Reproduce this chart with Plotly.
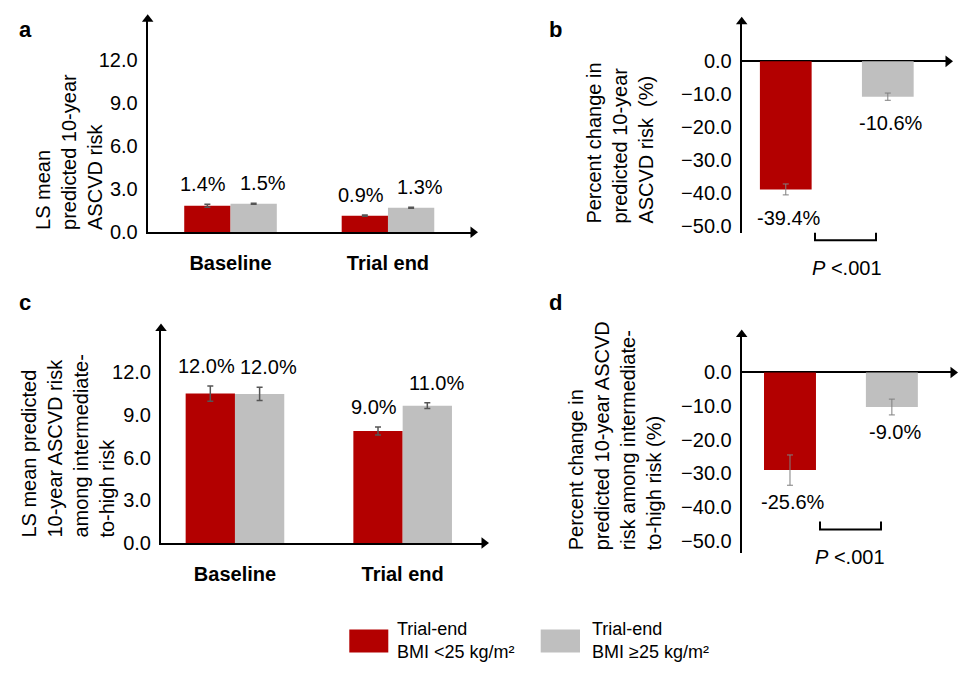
import plotly.graph_objects as go

# ---------------- data ----------------
groups = ["Baseline", "Trial end"]
series_names = ["Trial-end BMI <25 kg/m²", "Trial-end BMI ≥25 kg/m²"]

# panel a: LS mean predicted 10-year ASCVD risk (bar heights as drawn)
a_lt25 = [1.84, 1.15]
a_ge25 = [1.98, 1.70]
a_err_lt25 = [0.10, 0.05]
a_err_ge25 = [0.03, 0.04]
a_lab_lt25 = ["1.4%", "0.9%"]
a_lab_ge25 = ["1.5%", "1.3%"]

# panel c: among intermediate-to-high risk
c_lt25 = [10.50, 7.87]
c_ge25 = [10.48, 9.65]
c_err_lt25 = [0.53, 0.28]
c_err_ge25 = [0.46, 0.20]
c_lab_lt25 = ["12.0%", "9.0%"]
c_lab_ge25 = ["12.0%", "11.0%"]

# panel b: percent change
b_vals = [-39.0, -10.75]
b_err = [1.66, 1.10]
b_labs = ["-39.4%", "-10.6%"]

# panel d: percent change among intermediate-to-high risk
d_vals = [-29.0, -10.26]
d_err = [4.5, 2.35]
d_labs = ["-25.6%", "-9.0%"]

ticks_ac = [0.0, 3.0, 6.0, 9.0, 12.0]
ticks_bd = [0.0, -10.0, -20.0, -30.0, -40.0, -50.0]
p_text = "<i>P</i> <.001"
legend_texts = ["Trial-end<br>BMI <25 kg/m²", "Trial-end<br>BMI ≥25 kg/m²"]

# ---------------- style ----------------
RED = "#b30000"
GRAY = "#bfbfbf"
FONT = "Arial, Liberation Sans, sans-serif"
W, H = 960, 676


def X(px):
    return px / W


def Y(py):
    return 1 - py / H


fig = go.Figure()

bw_ac = 0.294
colors = [RED, GRAY]

# grouped bars for a and c
for (vals_pair, errs_pair, xa, ya) in [
    ((a_lt25, a_ge25), (a_err_lt25, a_err_ge25), "x", "y"),
    ((c_lt25, c_ge25), (c_err_lt25, c_err_ge25), "x3", "y3"),
]:
    for k in range(2):
        off = (k - 0.5) * bw_ac
        fig.add_trace(go.Bar(
            x=[i + off for i in range(len(groups))],
            y=vals_pair[k],
            width=bw_ac,
            marker=dict(color=colors[k], line=dict(width=0)),
            error_y=dict(type="data", array=errs_pair[k], color="#555555",
                         thickness=1.5, width=3),
            xaxis=xa, yaxis=ya, showlegend=False, hoverinfo="skip",
        ))

# single bars for b and d
for (vals, errs, xa, ya, bw) in [
    (b_vals, b_err, "x2", "y2", 0.507),
    (d_vals, d_err, "x4", "y4", 0.51),
]:
    fig.add_trace(go.Bar(
        x=list(range(len(vals))),
        y=vals,
        width=bw,
        marker=dict(color=colors, line=dict(width=0)),
        error_y=dict(type="data", array=errs, color="#7f7f7f",
                     thickness=1, width=3),
        xaxis=xa, yaxis=ya, showlegend=False, hoverinfo="skip",
    ))

# axis ranges
rng = {
    "a": dict(x=[-0.526, 1.54], y=[0, 14.83], y0=0.0),
    "b": dict(x=[-0.432, 1.59], y=[-52.4, 12.1], y0=0.0),
    "c": dict(x=[-0.441, 1.485], y=[0, 15.07], y0=0.0),
    "d": dict(x=[-0.474, 1.6], y=[-53.5, 11.3], y0=0.0),
}
axes_of = {"a": ("x", "y"), "b": ("x2", "y2"), "c": ("x3", "y3"), "d": ("x4", "y4")}

# arrowheads at the axis ends
for key, r in rng.items():
    xa, ya = axes_of[key]
    fig.add_trace(go.Scatter(
        x=[r["x"][0], r["x"][1]], y=[r["y"][1], r["y0"]],
        mode="markers", cliponaxis=False,
        marker=dict(symbol=["triangle-up", "triangle-right"], size=10,
                    color="black", line=dict(width=0)),
        xaxis=xa, yaxis=ya, showlegend=False, hoverinfo="skip",
    ))

annotations = []

# value labels a/c (above error bar tops)
for (vals_pair, errs_pair, labs_pair, xa, ya) in [
    ((a_lt25, a_ge25), (a_err_lt25, a_err_ge25), (a_lab_lt25, a_lab_ge25), "x", "y"),
    ((c_lt25, c_ge25), (c_err_lt25, c_err_ge25), (c_lab_lt25, c_lab_ge25), "x3", "y3"),
]:
    for k in range(2):
        off = (k - 0.5) * bw_ac
        for i in range(len(groups)):
            annotations.append(dict(
                x=i + off, y=vals_pair[k][i] + errs_pair[k][i],
                xref=xa, yref=ya, text=labs_pair[k][i], showarrow=False,
                yanchor="middle", yshift=20, xshift=(-4 if k == 0 else 9),
                font=dict(size=20, color="black", family=FONT),
            ))

# value labels b/d (below error bar bottoms)
for (vals, errs, labs, xa, ya, sh) in [
    (b_vals, b_err, b_labs, "x2", "y2", -23),
    (d_vals, d_err, d_labs, "x4", "y4", -17),
]:
    for i in range(len(vals)):
        annotations.append(dict(
            x=i, y=vals[i] - errs[i], xref=xa, yref=ya, text=labs[i],
            showarrow=False, yanchor="middle", yshift=sh, xshift=3,
            font=dict(size=20, color="black", family=FONT),
        ))

# y-axis titles
ytitles = [
    ("LS mean<br>predicted 10-year<br>ASCVD risk", 69.5, 155),
    ("Percent change in<br>predicted 10-year<br>ASCVD risk  (%)", 620, 146),
    ("LS mean predicted<br>10-year ASCVD risk<br>among intermediate-<br>to-high risk", 68, 454),
    ("Percent change in<br>predicted 10-year ASCVD<br>risk among intermediate-<br>to-high risk (%)", 614.5, 443),
]
for t, px, py in ytitles:
    annotations.append(dict(
        x=X(px), y=Y(py), xref="paper", yref="paper", text=t, textangle=-90,
        showarrow=False, align="left", xanchor="center", yanchor="middle",
        font=dict(size=20, color="black", family=FONT),
    ))

# panel letters
for t, px, py in [("a", 25, 30), ("b", 555, 30), ("c", 25, 308), ("d", 555, 307)]:
    annotations.append(dict(
        x=X(px), y=Y(py), xref="paper", yref="paper", text="<b>%s</b>" % t,
        showarrow=False, xanchor="center", yanchor="middle",
        font=dict(size=22, color="black", family=FONT),
    ))

# P-value brackets and text
shapes = []
for (x0, x1, ytop, ybot, tx, ty) in [
    (815, 876, 236.7, 244.3, 846.7, 272.7),
    (820, 881, 530, 538.3, 850, 566.7),
]:
    shapes.append(dict(
        type="path", xref="paper", yref="paper",
        path="M %f,%f L %f,%f L %f,%f L %f,%f" % (
            X(x0), Y(ytop), X(x0), Y(ybot), X(x1), Y(ybot), X(x1), Y(ytop)),
        line=dict(color="black", width=2),
    ))
    annotations.append(dict(
        x=X(tx), y=Y(ty), xref="paper", yref="paper", text=p_text,
        showarrow=False, xanchor="center", yanchor="middle",
        font=dict(size=20, color="black", family=FONT),
    ))

# legend (custom)
for k, (x0, x1, tx) in enumerate([(349.3, 388.3, 395), (540.7, 580, 590)]):
    shapes.append(dict(
        type="rect", xref="paper", yref="paper",
        x0=X(x0), x1=X(x1), y0=Y(663.3), y1=Y(640),
        fillcolor=colors[k], line=dict(width=0),
    ))
    annotations.append(dict(
        x=X(tx), y=Y(651.5), xref="paper", yref="paper", text=legend_texts[k],
        showarrow=False, xanchor="left", yanchor="middle", align="left",
        font=dict(size=18, color="black", family=FONT),
    ))

common_y = dict(showline=True, linecolor="black", linewidth=2, ticks="",
                showgrid=False, tickfont=dict(size=20, color="black", family=FONT),
                tickformat=".1f", ticklabelstandoff=4)
common_xcat = dict(tickvals=list(range(len(groups))),
                   ticktext=["<b>%s</b>" % g for g in groups],
                   showline=True, linecolor="black", linewidth=2, ticks="",
                   showgrid=False, zeroline=False,
                   tickfont=dict(size=20, color="black", family=FONT),
                   ticklabelstandoff=12)
common_xnone = dict(showline=False, showticklabels=False, ticks="",
                    showgrid=False, zeroline=False)

fig.update_layout(
    width=W, height=H, margin=dict(l=0, r=0, t=0, b=0),
    paper_bgcolor="white", plot_bgcolor="white",
    barmode="overlay", showlegend=False,
    font=dict(family=FONT, color="black"),
    annotations=annotations, shapes=shapes,
    # panel a
    xaxis=dict(domain=[X(147.7), X(473)], range=rng["a"]["x"], anchor="y", **common_xcat),
    yaxis=dict(domain=[Y(236), Y(19.5)], range=rng["a"]["y"], tickvals=ticks_ac,
               zeroline=False, anchor="x", **common_y),
    # panel b
    xaxis2=dict(domain=[X(741.7), X(948)], range=rng["b"]["x"], anchor="y2", **common_xnone),
    yaxis2=dict(domain=[Y(237.3), Y(22)], range=rng["b"]["y"], tickvals=ticks_bd,
                zeroline=True, zerolinecolor="black", zerolinewidth=2,
                anchor="x2", **common_y),
    # panel c
    xaxis3=dict(domain=[X(161), X(484)], range=rng["c"]["x"], anchor="y3", **common_xcat),
    yaxis3=dict(domain=[Y(552), Y(334)], range=rng["c"]["y"], tickvals=ticks_ac,
                zeroline=False, anchor="x3", **common_y),
    # panel d
    xaxis4=dict(domain=[X(741.7), X(953)], range=rng["d"]["x"], anchor="y4", **common_xnone),
    yaxis4=dict(domain=[Y(561.7), Y(340)], range=rng["d"]["y"], tickvals=ticks_bd,
                zeroline=True, zerolinecolor="black", zerolinewidth=2,
                anchor="x4", **common_y),
)

# the page is exactly the figure: no default body margin
page_fix = (
    "document.documentElement.style.margin='0';"
    "document.documentElement.style.overflow='hidden';"
    "document.body.style.margin='0';"
    "document.body.style.overflow='hidden';"
)

fig.write_html("out.html", post_script=page_fix,
               config={"displayModeBar": False, "staticPlot": True})
